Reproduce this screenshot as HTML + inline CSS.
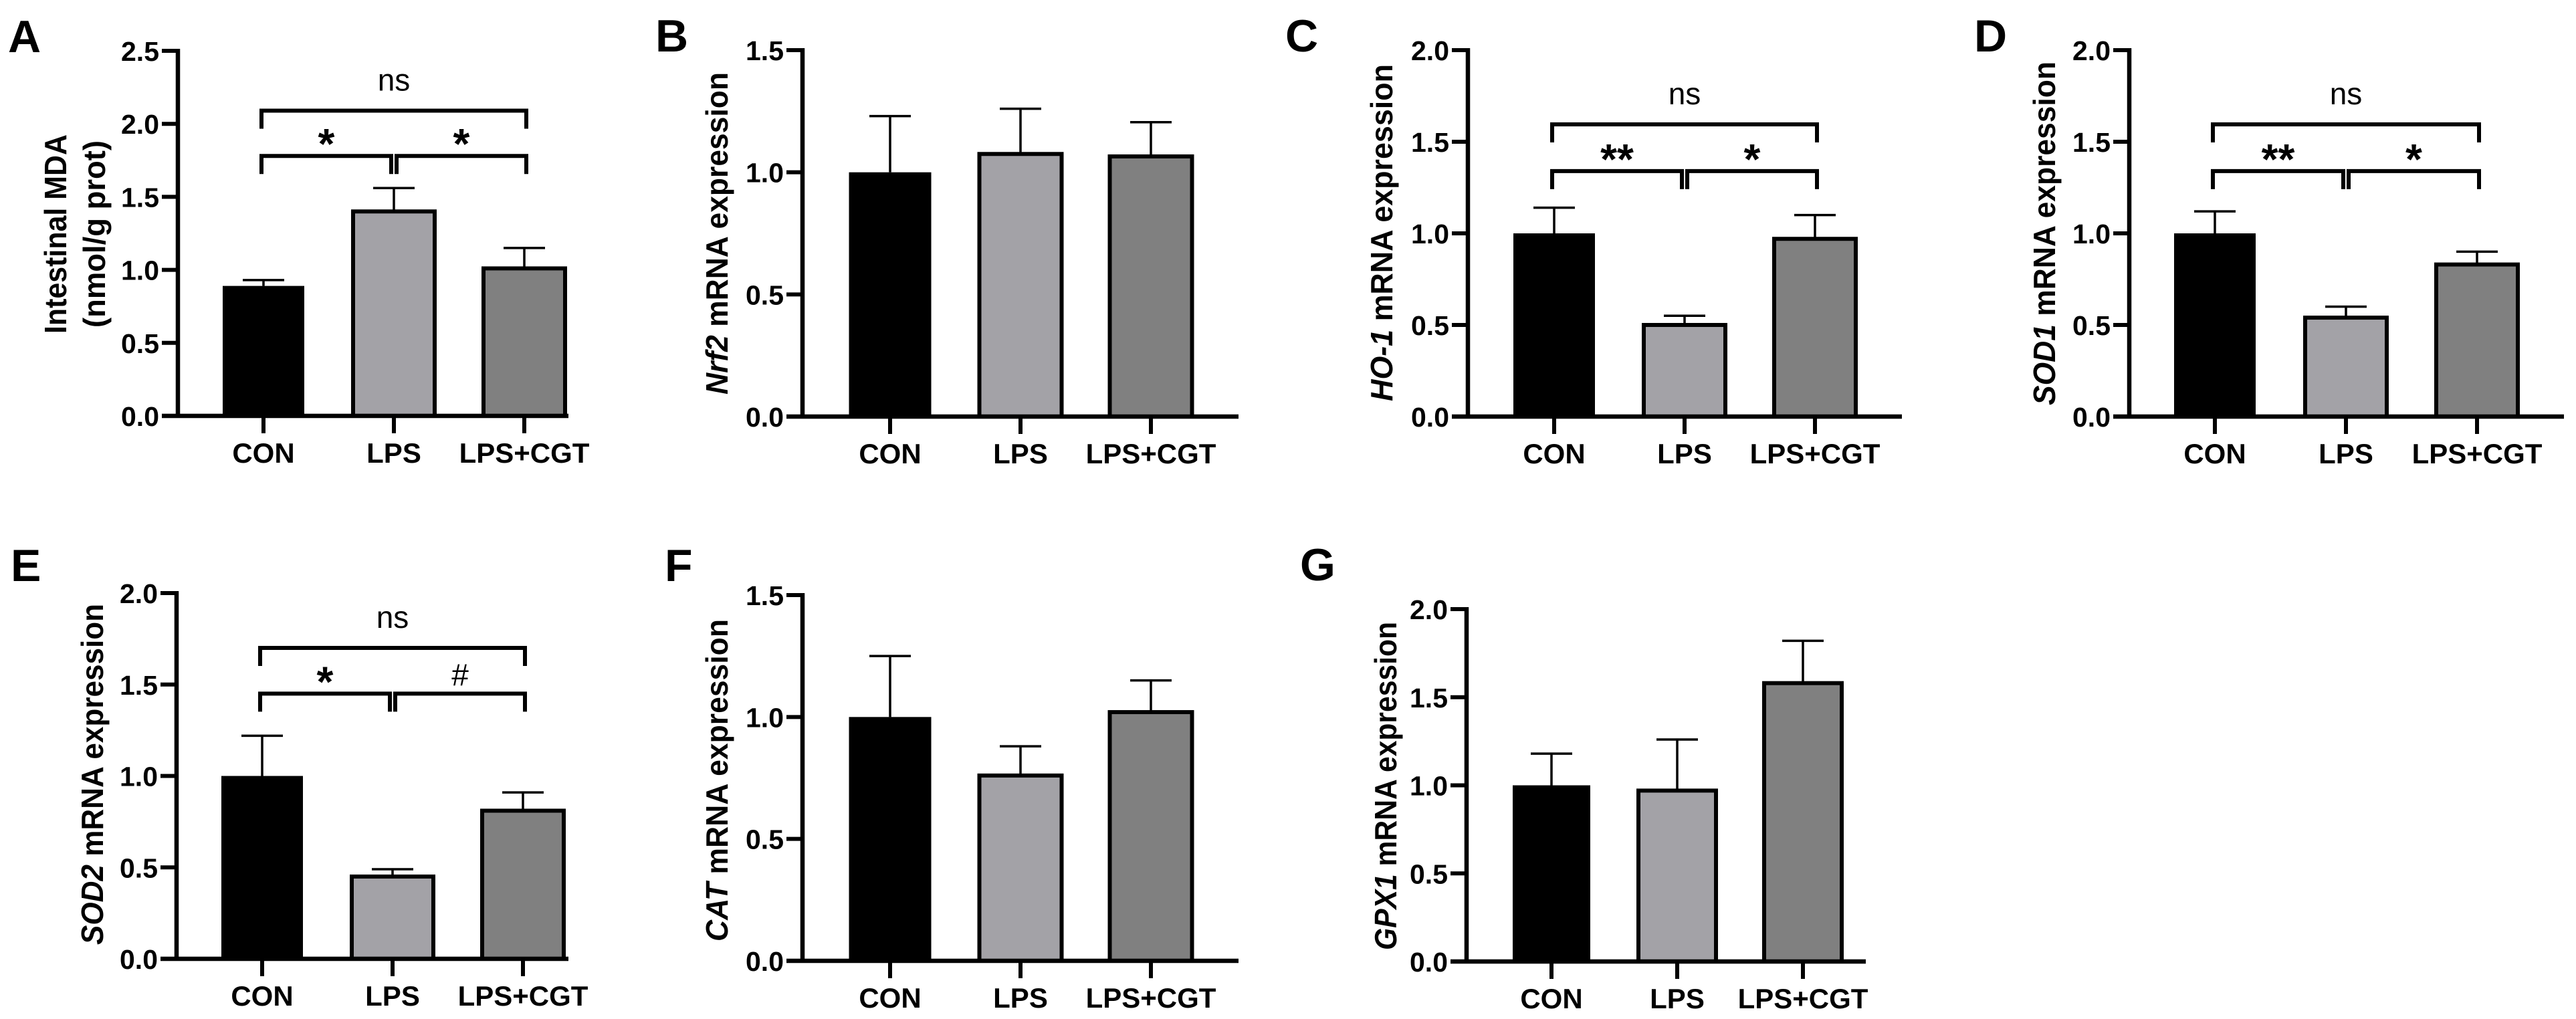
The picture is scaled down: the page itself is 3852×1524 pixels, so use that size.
<!DOCTYPE html>
<html><head><meta charset="utf-8"><style>
html,body{margin:0;padding:0;background:#fff}
svg{display:block}
text{font-family:"Liberation Sans",Arial,sans-serif}
</style></head><body>
<svg id="fig" width="3852" height="1524" viewBox="0 0 3852 1524" xmlns="http://www.w3.org/2000/svg"></svg>
<script>
const categories = ["CON", "LPS", "LPS+CGT"];
const valsA = [0.89, 1.40, 1.01];
const errA = [0.04, 0.16, 0.14];
const valsB = [1.00, 1.075, 1.065];
const errB = [0.23, 0.185, 0.14];
const valsC = [1.00, 0.50, 0.97];
const errC = [0.14, 0.05, 0.13];
const valsD = [1.00, 0.54, 0.83];
const errD = [0.12, 0.06, 0.07];
const valsE = [1.00, 0.45, 0.81];
const errE = [0.22, 0.04, 0.10];
const valsF = [1.00, 0.76, 1.02];
const errF = [0.25, 0.12, 0.13];
const valsG = [1.00, 0.97, 1.58];
const errG = [0.18, 0.29, 0.24];
const ticks25 = [0, 0.5, 1.0, 1.5, 2.0, 2.5];
const ticks20 = [0, 0.5, 1.0, 1.5, 2.0];
const ticks15 = [0, 0.5, 1.0, 1.5];
const sigA = ["*", "*", "ns"];
const sigC = ["**", "*", "ns"];
const sigD = ["**", "*", "ns"];
const sigE = ["*", "#", "ns"];
const bracketLevelsA = [1.78, 2.09];
const bracketLevelsC = [1.34, 1.595];
const bracketLevelsD = [1.34, 1.595];
const bracketLevelsE = [1.45, 1.70];

const NS = "http://www.w3.org/2000/svg";
const svg = document.getElementById("fig");
const fills = ["#000000", "#a3a2a7", "#808080"];

function mk(tag, parent, attrs) {
  const e = document.createElementNS(NS, tag);
  for (const k in attrs) e.setAttribute(k, attrs[k]);
  parent.appendChild(e);
  return e;
}

function panel(p) {
  const g = mk("g", svg, {});
  
  
  const ys = v => p.y0 - (v / p.max) * (p.y0 - p.yTop);
  const xc = i => p.x0 + p.off + i * p.sp;

  const lab = mk("text", g, {x: p.lx, y: p.ly, "font-size": 68, "font-weight": "bold", fill: "#000"});
  lab.textContent = p.id;
  
  

  // bars
  p.vals.forEach((v, i) => {
    const top = ys(v), c = xc(i), hw = p.bw / 2;
    const eb = mk("line", g, {x1: c, x2: c, y1: top, y2: ys(v + p.err[i]), stroke: "#000", "stroke-width": 3.5});
    
    
    const cap = mk("line", g, {x1: c - 31, x2: c + 31, y1: ys(v + p.err[i]), y2: ys(v + p.err[i]), stroke: "#000", "stroke-width": 3.5});
    
    
    const r = mk("rect", g, {x: c - hw + 3, y: top, width: p.bw - 6, height: p.y0 - top, fill: fills[i], stroke: "#000", "stroke-width": i === 0 ? 0 : 6});
    
    
    const t = mk("line", g, {x1: c, x2: c, y1: p.y0, y2: p.y0 + 26, stroke: "#000", "stroke-width": 6});
    
    
    const xl = mk("text", g, {x: c, y: p.y0 + 70, "font-size": 42, "font-weight": "bold", "text-anchor": "middle"});
    xl.textContent = categories[i];
    
    
  });

  // axes
  const ya = mk("path", g, {d: `M${p.x0},${p.yTop - 3}V${p.y0}`, stroke: "#000", "stroke-width": 6.5, fill: "none"});
  
  
  const xa = mk("path", g, {d: `M${p.x0 - 24},${p.y0}H${p.x1}`, stroke: "#000", "stroke-width": 6.5, fill: "none"});
  
  
  p.ticks.forEach(tv => {
    const y = ys(tv);
    const tk = mk("line", g, {x1: p.x0 - 24, x2: p.x0, y1: y, y2: y, stroke: "#000", "stroke-width": 6});
    
    
    const tl = mk("text", g, {x: p.x0 - 28, y: y + 15, "font-size": 41, "font-weight": "bold", "text-anchor": "end"});
    tl.textContent = tv.toFixed(1);
    
    
  });

  // y title
  const cy = (p.tTop + p.tBot) / 2;
  p.title.forEach((line, li) => {
    const tt = mk("text", g, {x: 0, y: 0, "font-size": 46, "font-weight": "bold", "text-anchor": "middle",
      transform: `translate(${line.x},${cy}) rotate(-90)`, textLength: line.len, lengthAdjust: "spacingAndGlyphs"});
    
    
    tt.setAttribute('y', 16);
    if (line.it) {
      const s1 = mk("tspan", tt, {"font-style": "italic"}); s1.textContent = line.it;
      const s2 = mk("tspan", tt, {}); s2.textContent = line.rest;
    } else tt.textContent = line.rest;
  });

  // brackets
  if (p.sig) {
    const lo = ys(p.levels[0]), hi = ys(p.levels[1]), leg = 27;
    const c0 = xc(0) - 3, c1 = xc(1), c2 = xc(2) + 3;
    const defs = [[c0, c1 - 4, lo], [c1 + 4, c2, lo], [c0, c2, hi]];
    defs.forEach((d, k) => {
      const b = mk("path", g, {d: `M${d[0]},${d[2] + leg}V${d[2]}H${d[1]}V${d[2] + leg}`, stroke: "#000", "stroke-width": 6, fill: "none"});
      
      
      const isNs = p.sig[k] === "ns", isHash = p.sig[k] === "#";
      const st = mk("text", g, {x: (d[0] + d[1]) / 2, y: isNs ? d[2] - 30 : d[2] - (isHash ? 12 : -8) ,
        "font-size": isNs ? 46 : (isHash ? 46 : 64), "font-weight": isNs || isHash ? "normal" : "bold", "text-anchor": "middle"});
      if (!isNs && !isHash) st.setAttribute('y', d[2] - 6 + 10);
      st.textContent = p.sig[k];
      
      
    });
  }
}

panel({id: "A", lx: 12, ly: 78, x0: 266, x1: 850, yTop: 76, y0: 622, max: 2.5, ticks: ticks25, off: 128, sp: 195, bw: 128,
  vals: valsA, err: errA, sig: sigA, levels: bracketLevelsA, tTop: 201, tBot: 499,
  title: [{x: 83, rest: "Intestinal MDA", len: 298}, {x: 141, rest: "(nmol/g prot)", len: 280}]});
panel({id: "B", lx: 980, ly: 77, x0: 1200, x1: 1852, yTop: 75, y0: 623, max: 1.5, ticks: ticks15, off: 131, sp: 195, bw: 129,
  vals: valsB, err: errB, tTop: 108, tBot: 590, title: [{x: 1072, it: "Nrf2", rest: " mRNA expression", len: 482}]});
panel({id: "C", lx: 1922, ly: 77, x0: 2195, x1: 2844, yTop: 75, y0: 623, max: 2.0, ticks: ticks20, off: 129, sp: 195, bw: 128,
  vals: valsC, err: errC, sig: sigC, levels: bracketLevelsC, tTop: 96, tBot: 600,
  title: [{x: 2066, it: "HO-1", rest: " mRNA expression", len: 504}]});
panel({id: "D", lx: 2952, ly: 77, x0: 3184, x1: 3834, yTop: 75, y0: 623, max: 2.0, ticks: ticks20, off: 128, sp: 196, bw: 128,
  vals: valsD, err: errD, sig: sigD, levels: bracketLevelsD, tTop: 92, tBot: 606,
  title: [{x: 3057, it: "SOD1", rest: " mRNA expression", len: 514}]});
panel({id: "E", lx: 16, ly: 869, x0: 264, x1: 850, yTop: 887, y0: 1434, max: 2.0, ticks: ticks20, off: 128, sp: 195, bw: 128,
  vals: valsE, err: errE, sig: sigE, levels: bracketLevelsE, tTop: 903, tBot: 1413,
  title: [{x: 138, it: "SOD2", rest: " mRNA expression", len: 510}]});
panel({id: "F", lx: 994, ly: 869, x0: 1200, x1: 1852, yTop: 890, y0: 1437, max: 1.5, ticks: ticks15, off: 131, sp: 195, bw: 129,
  vals: valsF, err: errF, tTop: 926, tBot: 1408, title: [{x: 1072, it: "CAT", rest: " mRNA expression", len: 482}]});
panel({id: "G", lx: 1944, ly: 868, x0: 2193, x1: 2790, yTop: 911, y0: 1438, max: 2.0, ticks: ticks20, off: 127, sp: 188, bw: 122,
  vals: valsG, err: errG, tTop: 930, tBot: 1421, title: [{x: 2072, it: "GPX1", rest: " mRNA expression", len: 491}]});
</script>
</body></html>
